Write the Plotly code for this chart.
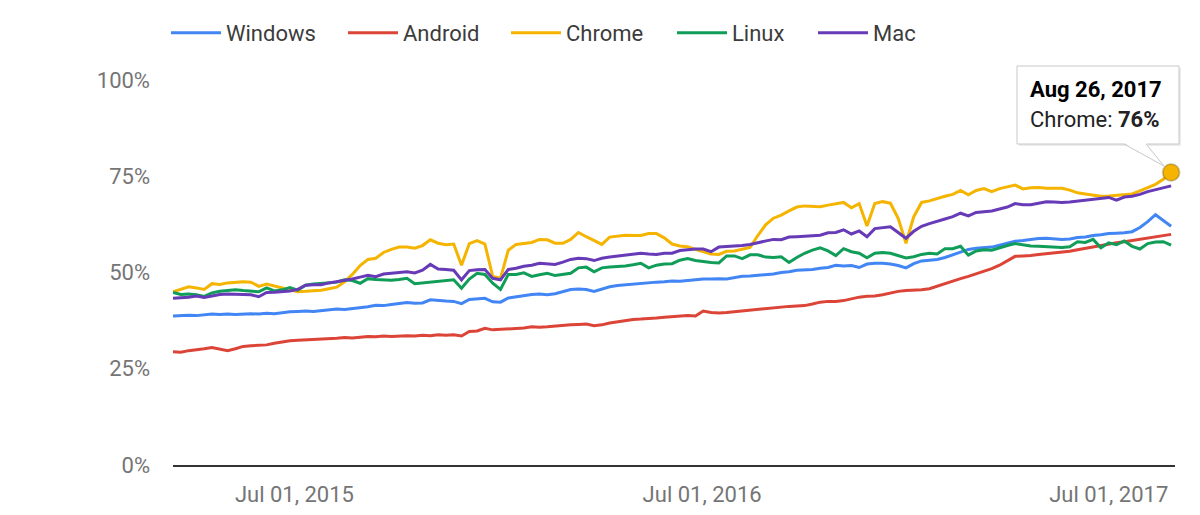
import pandas as pd
import plotly.graph_objects as go

# ---------------- data ----------------
start_date = "2015-03-14"   # weekly points, last one Aug 26, 2017
n_weeks = 129

windows = [38.7, 38.8, 38.9, 38.8, 39.0, 39.2, 39.1, 39.2, 39.1, 39.2,
           39.3, 39.2, 39.4, 39.3, 39.6, 39.8, 39.9, 40.0, 39.9, 40.1,
           40.3, 40.5, 40.4, 40.6, 40.8, 41.1, 41.5, 41.4, 41.7, 42.0,
           42.2, 42.0, 42.1, 42.9, 42.7, 42.6, 42.5, 41.9, 43.0, 43.1,
           43.3, 42.4, 42.3, 43.4, 43.7, 43.9, 44.3, 44.4, 44.2, 44.5,
           45.0, 45.6, 45.7, 45.6, 45.1, 45.8, 46.3, 46.6, 46.8, 47.0,
           47.2, 47.3, 47.5, 47.6, 47.8, 47.7, 47.9, 48.1, 48.3, 48.3,
           48.4, 48.3, 48.6, 49.0, 49.1, 49.3, 49.4, 49.6, 50.0, 50.2,
           50.6, 50.7, 50.8, 51.1, 51.3, 51.9, 51.7, 51.8, 51.3, 52.2,
           52.4, 52.4, 52.2, 51.8, 51.2, 52.3, 53.0, 53.2, 53.4, 53.9,
           54.6, 55.3, 56.0, 56.3, 56.5, 56.6, 57.1, 57.6, 58.1, 58.3,
           58.6, 58.8, 58.9, 58.8, 58.6, 58.7, 59.1, 59.2, 59.6, 59.8,
           60.1, 60.2, 60.3, 60.6, 61.7, 63.2, 65.0, 63.5, 62.0]

android = [29.4, 29.3, 29.7, 29.9, 30.2, 30.5, 30.1, 29.7, 30.2, 30.8,
           31.0, 31.1, 31.2, 31.6, 32.0, 32.3, 32.4, 32.5, 32.6, 32.7,
           32.7, 32.9, 33.1, 33.0, 33.2, 33.4, 33.3, 33.5, 33.4, 33.5,
           33.6, 33.5, 33.7, 33.6, 33.8, 33.7, 33.8, 33.5, 34.7, 34.8,
           35.5, 35.1, 35.2, 35.3, 35.4, 35.6, 35.9, 35.8, 35.9, 36.1,
           36.2, 36.4, 36.5, 36.6, 36.2, 36.4, 36.9, 37.2, 37.5, 37.8,
           37.9, 38.0, 38.2, 38.4, 38.5, 38.6, 38.8, 38.7, 40.0, 39.6,
           39.5, 39.6, 39.8, 40.1, 40.3, 40.4, 40.6, 40.9, 41.1, 41.2,
           41.3, 41.4, 41.8, 42.3, 42.5, 42.5, 42.7, 43.1, 43.6, 43.8,
           43.9, 44.2, 44.7, 45.1, 45.3, 45.4, 45.5, 45.8, 46.5, 47.2,
           47.9, 48.4, 49.0, 49.6, 50.3, 51.0, 51.9, 53.0, 54.2, 54.3,
           54.4, 54.7, 54.9, 55.0, 55.3, 55.5, 55.9, 56.3, 56.6, 57.0,
           57.4, 57.7, 58.0, 58.3, 58.7, 59.0, 59.3, 59.6, 59.9]

chrome = [45.0, 45.6, 46.3, 46.0, 45.6, 47.1, 46.9, 47.3, 47.5, 47.6,
          47.5, 46.4, 47.0, 46.5, 45.9, 45.4, 45.0, 45.1, 45.2, 45.4,
          45.8, 46.2, 47.6, 49.5, 51.8, 53.4, 53.7, 55.2, 56.0, 56.6,
          56.6, 56.3, 57.0, 58.5, 57.6, 57.2, 57.4, 51.9, 57.5, 58.3,
          57.4, 49.0, 48.5, 55.8, 57.3, 57.6, 57.8, 58.6, 58.5, 57.6,
          57.6, 58.6, 60.4, 59.3, 58.3, 57.3, 59.2, 59.5, 59.7, 59.6,
          59.6, 60.1, 60.1, 59.0, 57.4, 56.9, 56.7, 56.0, 55.4, 54.8,
          54.7, 55.5, 55.6, 56.0, 56.5, 59.6, 62.4, 64.1, 64.9, 66.0,
          67.0, 67.3, 67.2, 67.1, 67.5, 67.8, 68.2, 66.8, 67.9, 62.1,
          67.9, 68.4, 68.0, 64.1, 57.6, 64.5, 68.2, 68.6, 69.3, 69.8,
          70.3, 71.3, 70.2, 71.3, 71.8, 71.0, 71.8, 72.2, 72.7, 71.7,
          72.0, 72.1, 71.9, 71.9, 71.9, 71.4, 70.7, 70.4, 70.1, 69.8,
          69.9, 70.1, 70.2, 70.4, 71.2, 72.1, 72.9, 74.2, 76.0]

linux = [44.8, 44.3, 44.4, 44.2, 43.8, 44.7, 45.1, 45.3, 45.5, 45.3,
         45.2, 45.0, 46.0, 45.2, 45.5, 46.1, 45.4, 46.7, 47.0, 47.2,
         47.4, 47.5, 48.1, 47.9, 47.2, 48.4, 48.2, 48.1, 48.0, 48.2,
         48.5, 47.1, 47.3, 47.6, 47.7, 47.9, 48.1, 45.9, 48.3, 49.8,
         49.5, 47.2, 45.6, 49.5, 49.5, 49.9, 49.0, 49.4, 49.8, 49.2,
         49.5, 49.8, 51.2, 51.4, 50.2, 51.2, 51.4, 51.5, 51.7, 52.0,
         52.4, 51.2, 51.9, 52.2, 52.3, 53.2, 53.6, 53.1, 52.8, 52.6,
         52.5, 54.3, 54.3, 53.6, 54.6, 54.6, 54.0, 53.9, 54.1, 52.6,
         53.9, 55.0, 55.8, 56.4, 55.6, 54.4, 56.2, 55.4, 55.0, 53.8,
         55.0, 55.2, 55.0, 54.5, 53.8, 54.1, 54.7, 55.0, 54.8, 56.2,
         56.2, 56.8, 54.5, 55.6, 55.9, 55.8, 56.5, 57.0, 57.5, 57.2,
         56.9, 56.8, 56.7, 56.5, 56.5, 56.7, 58.0, 57.8, 58.6, 56.4,
         57.7, 57.2, 58.2, 56.8, 56.1, 57.5, 57.9, 58.0, 57.1]

mac = [43.3, 43.4, 43.6, 43.9, 43.5, 43.9, 44.3, 44.4, 44.3, 44.2,
       44.2, 43.7, 44.8, 44.9, 45.0, 45.2, 45.6, 46.7, 46.8, 46.8,
       47.3, 47.6, 48.0, 48.3, 48.8, 49.3, 48.9, 49.6, 49.8, 50.0,
       50.2, 49.9, 50.6, 52.1, 50.9, 50.8, 50.6, 48.1, 50.5, 50.7,
       50.8, 48.5, 48.1, 50.8, 51.1, 51.6, 51.9, 52.4, 52.3, 52.1,
       52.7, 53.4, 53.7, 53.6, 53.1, 53.7, 54.0, 54.3, 54.5, 54.8,
       55.0, 54.8, 54.7, 55.0, 55.0, 55.7, 55.9, 56.1, 56.1, 55.4,
       56.6, 56.7, 56.9, 57.0, 57.3, 57.7, 58.1, 58.6, 58.5, 59.2,
       59.3, 59.4, 59.6, 59.7, 60.3, 60.4, 61.1, 60.0, 60.8, 59.3,
       61.4, 61.7, 61.9, 60.4, 58.9, 60.7, 62.0, 62.7, 63.2, 63.9,
       64.5, 65.4, 64.7, 65.6, 65.8, 66.0, 66.5, 67.0, 67.9, 67.6,
       67.6, 68.0, 68.4, 68.3, 68.2, 68.3, 68.5, 68.8, 69.0, 69.3,
       69.5, 68.8, 69.6, 69.8, 70.3, 71.0, 71.5, 72.0, 72.5]

series_names = ["Windows", "Android", "Chrome", "Linux", "Mac"]
series_colors = ["#4285F4", "#DB4437", "#F4B400", "#0F9D58", "#673AB7"]

x_tick_vals = ["2015-07-01", "2016-07-01", "2017-07-01"]
x_tick_text = ["Jul 01, 2015", "Jul 01, 2016", "Jul 01, 2017"]
y_tick_vals = [0, 25, 50, 75, 100]
y_tick_text = ["0%", "25%", "50%", "75%", "100%"]

tooltip_date = "Aug 26, 2017"
tooltip_series = "Chrome"

# ---------------- layout geometry ----------------
W, H = 1200, 515
L, R, T, B = 173, 25, 80, 50
pw, ph = W - L - R, H - T - B


def px(xp):
    return (xp - L) / pw


def py(yp):
    return (H - B - yp) / ph


legend_starts = [173, 350, 513, 679, 820]   # pixel x of each legend entry
FONT = "Roboto"

# ---------------- figure ----------------
dates = pd.date_range(start_date, periods=n_weeks, freq="7D")
all_series = [windows, android, chrome, linux, mac]

fig = go.Figure()
legend_layouts = {}
for k, (name, color, vals) in enumerate(zip(series_names, series_colors, all_series)):
    lg = "legend" if k == 0 else f"legend{k + 1}"
    fig.add_trace(go.Scatter(
        x=dates, y=vals, name=name, mode="lines",
        line=dict(color=color, width=3),
        hoverinfo="skip", legend=lg,
    ))
    legend_layouts[lg] = dict(
        orientation="h", x=px(legend_starts[k] - 7), xanchor="left",
        y=py(33), yanchor="middle",
        font=dict(family=FONT, size=22, color="#3c3c3c"),
        itemwidth=50, bgcolor="rgba(0,0,0,0)", borderwidth=0,
    )

# highlighted point
idx = series_names.index(tooltip_series)
hl_val = all_series[idx][-1]
fig.add_trace(go.Scatter(
    x=[dates[-1]], y=[hl_val], mode="markers", showlegend=False,
    marker=dict(size=17, color=series_colors[idx],
                line=dict(color="rgba(0,0,0,0.18)", width=2)),
    hoverinfo="skip", cliponaxis=False,
))

# tooltip box + tail
bx0, bx1, by0, by1 = 1017, 1179, 66, 144
tip_x, tip_y = 1164, 166
shapes = [
    dict(type="rect", xref="paper", yref="paper",
         x0=px(bx0 + 2), x1=px(bx1 + 2), y0=py(by1 + 2), y1=py(by0 + 2),
         fillcolor="rgba(0,0,0,0.08)", line=dict(width=0), layer="above"),
    dict(type="rect", xref="paper", yref="paper",
         x0=px(bx0), x1=px(bx1), y0=py(by1), y1=py(by0),
         fillcolor="white", line=dict(color="#c8c8c8", width=1), layer="above"),
    dict(type="path", xref="paper", yref="paper",
         path=f"M {px(1124)},{py(by1 - 1)} L {px(tip_x)},{py(tip_y)} L {px(1146)},{py(by1 - 1)} Z",
         fillcolor="white", line=dict(width=0), layer="above"),
    dict(type="line", xref="paper", yref="paper",
         x0=px(1124), y0=py(by1), x1=px(tip_x), y1=py(tip_y),
         line=dict(color="#c8c8c8", width=1), layer="above"),
    dict(type="line", xref="paper", yref="paper",
         x0=px(1146), y0=py(by1), x1=px(tip_x), y1=py(tip_y),
         line=dict(color="#c8c8c8", width=1), layer="above"),
]

annotations = [
    dict(xref="paper", yref="paper", x=px(1028), y=py(89), xanchor="left", yanchor="middle",
         text=f"<b>{tooltip_date}</b>", showarrow=False,
         font=dict(family=FONT, size=22, color="#000000")),
    dict(xref="paper", yref="paper", x=px(1028), y=py(119), xanchor="left", yanchor="middle",
         text=f"{tooltip_series}: <b>{hl_val:.0f}%</b>", showarrow=False,
         font=dict(family=FONT, size=22, color="#222222")),
]

fig.update_layout(
    width=W, height=H,
    margin=dict(l=L, r=R, t=T, b=B, autoexpand=False),
    paper_bgcolor="white", plot_bgcolor="white",
    font=dict(family=FONT, size=22, color="#757575"),
    showlegend=True,
    shapes=shapes,
    annotations=annotations,
    hovermode=False,
    **legend_layouts,
)
fig.update_xaxes(
    range=[dates[0], pd.Timestamp("2017-08-29 12:00")],
    tickvals=x_tick_vals, ticktext=x_tick_text,
    showgrid=False, zeroline=False,
    showline=True, linecolor="#333333", linewidth=2,
    ticks="", ticklabelstandoff=9, automargin=False,
    tickfont=dict(family=FONT, size=22, color="#757575"),
)
fig.update_yaxes(
    range=[0, 100],
    tickvals=y_tick_vals, ticktext=y_tick_text,
    showgrid=False, zeroline=False, showline=False,
    ticks="", ticklabelstandoff=22, automargin=False,
    tickfont=dict(family=FONT, size=22, color="#757575"),
)

fig.write_html("out.html")
